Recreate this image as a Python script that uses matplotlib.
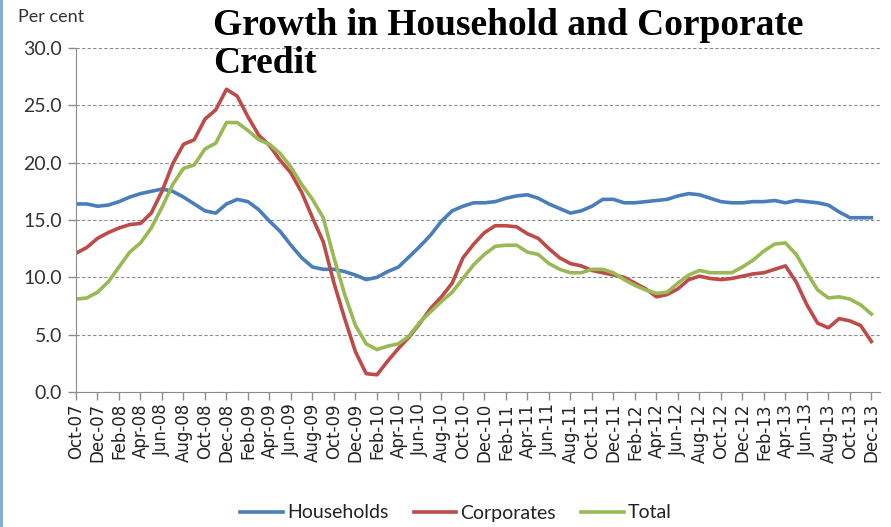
import numpy as np
import pandas as pd
import matplotlib
matplotlib.use("Agg")
import matplotlib.pyplot as plt
from matplotlib.lines import Line2D


# monthly growth rates, Oct-07 .. Dec-13 (per cent)
months = pd.date_range("2007-10-01", periods=75, freq="MS")

households = [16.4, 16.4, 16.2, 16.3, 16.6, 17.0, 17.3, 17.5, 17.7, 17.5,
              17.0, 16.4, 15.8, 15.6, 16.4, 16.8, 16.6, 15.9, 14.9, 14.0,
              12.8, 11.7, 10.9, 10.7, 10.7, 10.5, 10.2, 9.8, 10.0, 10.5,
              10.9, 11.8, 12.7, 13.7, 14.9, 15.8, 16.2, 16.5, 16.5, 16.6,
              16.9, 17.1, 17.2, 16.9, 16.4, 16.0, 15.6, 15.8, 16.2, 16.8,
              16.8, 16.5, 16.5, 16.6, 16.7, 16.8, 17.1, 17.3, 17.2, 16.9,
              16.6, 16.5, 16.5, 16.6, 16.6, 16.7, 16.5, 16.7, 16.6, 16.5,
              16.3, 15.7, 15.2, 15.2, 15.2]

corporates = [12.1, 12.6, 13.4, 13.9, 14.3, 14.6, 14.7, 15.6, 17.5, 19.9,
              21.6, 22.0, 23.8, 24.6, 26.4, 25.8, 24.0, 22.4, 21.5, 20.2,
              19.1, 17.4, 15.2, 13.1, 9.5, 6.4, 3.5, 1.6, 1.5, 2.7,
              3.8, 4.8, 6.0, 7.3, 8.3, 9.5, 11.7, 12.9, 13.9, 14.5,
              14.5, 14.4, 13.8, 13.4, 12.5, 11.7, 11.2, 11.0, 10.6, 10.4,
              10.2, 10.0, 9.5, 9.0, 8.3, 8.5, 9.0, 9.8, 10.1, 9.9,
              9.8, 9.9, 10.1, 10.3, 10.4, 10.7, 11.0, 9.6, 7.6, 6.0,
              5.6, 6.4, 6.2, 5.8, 4.4]

total = [8.1, 8.2, 8.7, 9.6, 10.9, 12.2, 13.0, 14.3, 16.1, 18.1,
         19.5, 19.8, 21.2, 21.7, 23.5, 23.5, 22.8, 22.0, 21.6, 20.8,
         19.6, 18.1, 16.8, 15.2, 11.7, 8.5, 5.8, 4.2, 3.7, 4.0,
         4.2, 4.9, 6.1, 7.0, 7.9, 8.7, 9.9, 11.1, 12.0, 12.7,
         12.8, 12.8, 12.2, 12.0, 11.2, 10.7, 10.4, 10.4, 10.7, 10.7,
         10.4, 9.8, 9.3, 8.9, 8.6, 8.7, 9.5, 10.2, 10.6, 10.4,
         10.4, 10.4, 10.9, 11.5, 12.3, 12.9, 13.0, 12.0, 10.4, 8.9,
         8.2, 8.3, 8.1, 7.6, 6.8]

series_names = ["Households", "Corporates", "Total"]
colors = ["#4A7EBB", "#BE4B48", "#98B954"]

title = "Growth in Household and Corporate\nCredit"

sans = ["Lato", "DejaVu Sans"]

fig = plt.figure(figsize=(8.91, 5.27), dpi=100)
ax = fig.add_axes([76 / 891, 1 - 392 / 527, 804 / 891, 344 / 527])

x = np.arange(len(months))
for vals, name, c in zip([households, corporates, total], series_names, colors):
    ax.plot(x, vals, color=c, lw=2.6, label=name, solid_joinstyle="round")

ax.set_xlim(0, 74.8)
ax.set_ylim(0, 30)
ax.set_yticks(np.arange(0, 30.1, 5))
ax.set_yticklabels(["%.1f" % v for v in np.arange(0, 30.1, 5)],
                   family=sans, fontsize=14, color="#333333")

xt = x[::2]
ax.set_xticks(xt)
ax.set_xticklabels([months[i].strftime("%b-%y") for i in xt], rotation=90,
                   family="DejaVu Sans", fontsize=12, color="#222222")

ax.grid(axis="y", color="#8c8c8c", lw=0.8, ls=(0, (3, 2)))
ax.set_axisbelow(True)
for s in ["top", "right"]:
    ax.spines[s].set_visible(False)
ax.spines["left"].set_color("#8c8c8c")
ax.spines["bottom"].set_color("#8c8c8c")
ax.tick_params(axis="both", color="#8c8c8c", length=6, width=1)
ax.tick_params(axis="x", pad=2)
ax.tick_params(axis="y", pad=4)

fig.text(18 / 891, 1 - 9 / 527, "Per cent", family=sans, fontsize=13,
         color="#333333", va="top", ha="left")

fig.text(213 / 891, 1 - 8 / 527, title, family="Liberation Serif",
         weight="bold", fontsize=27, va="top", ha="left", linespacing=1.12)

leg = fig.legend(loc="center", bbox_to_anchor=(456 / 891, 1 - 513 / 527),
                 ncol=3, frameon=False, prop={"family": sans, "size": 14},
                 handlelength=2.2, handletextpad=0.2, columnspacing=1.3)
for t in leg.get_texts():
    t.set_color("#222222")

# thin blue border on the left edge of the picture
fig.add_artist(Line2D([1 / 891, 1 / 891], [0, 1], color="#7BA7D0", lw=2,
                      transform=fig.transFigure))

fig.savefig("out.png", dpi=100)
